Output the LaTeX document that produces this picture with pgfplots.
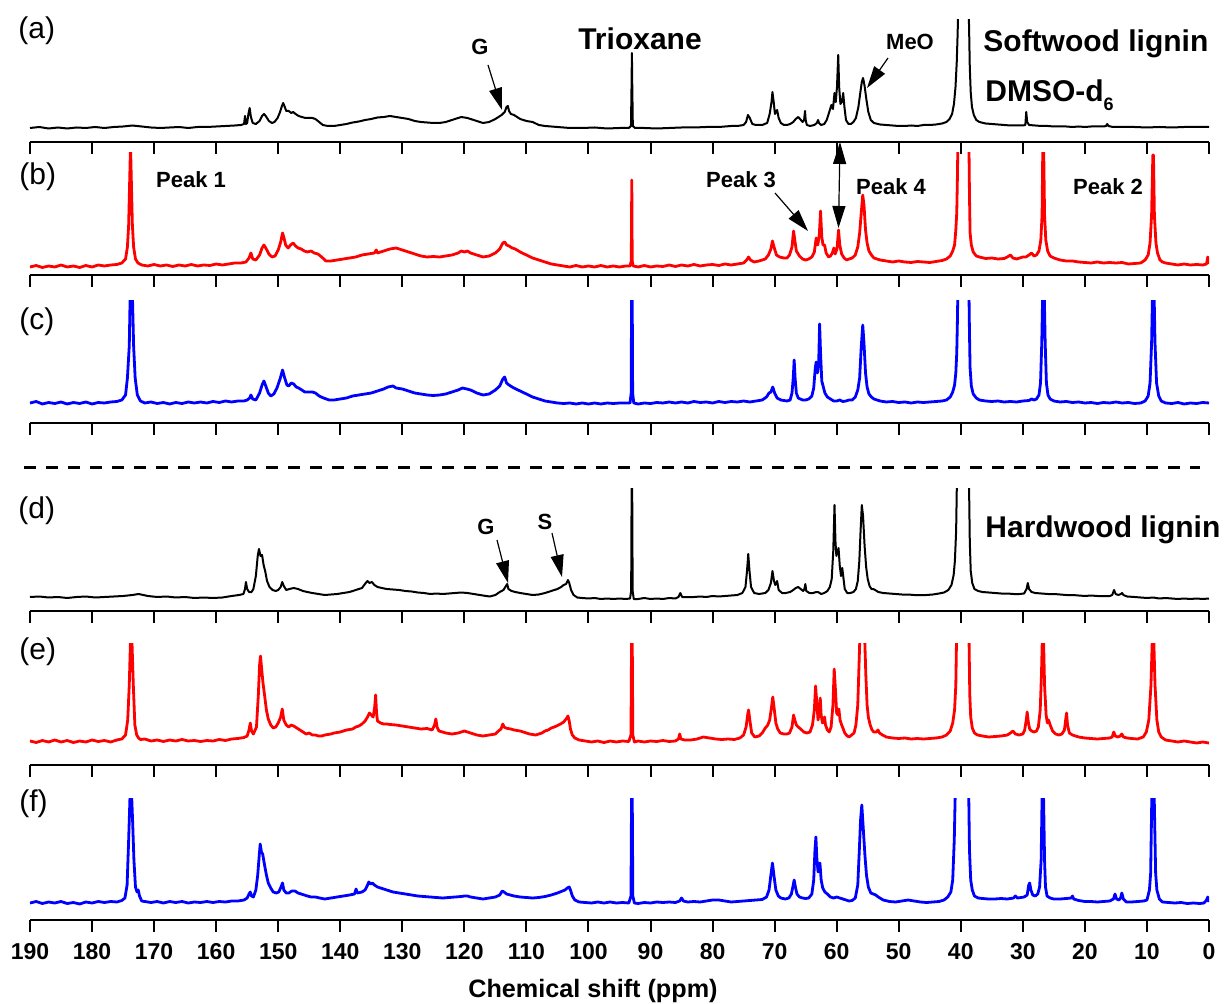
\documentclass[border=0pt]{standalone}
\usepackage{pgfplots}
\pgfplotsset{compat=1.18}
\usepackage{fontspec}
\setmainfont{Liberation Sans}
\usetikzlibrary{arrows.meta}

\pgfplotsset{
  panel/.style={
    scale only axis, width=589.5pt, height=61pt,
    xmin=0, xmax=190, ymin=0, ymax=122, x dir=reverse,
    axis x line=bottom, axis y line=none, ytick=\empty,
    axis line style={-, line width=1pt, black},
    xtick={0,10,...,190}, tick align=outside, major tick length=6pt,
    tick style={line width=1pt, black},
    xticklabels={}, clip=true, anchor=south west,
  },
  blk/.style={black, line width=1.0pt, line join=round},
  rd/.style={red, line width=1.4pt, line join=round},
  bl/.style={blue, line width=1.4pt, line join=round},
}
\newcommand\bigb{\bfseries\fontsize{15}{18}\selectfont}
\newcommand\smb{\bfseries\fontsize{11}{13}\selectfont}
\newcommand\plab{\fontsize{15}{18}\selectfont}

\begin{document}
\begin{tikzpicture}
\useasboundingbox (0pt,0pt) rectangle (612.5pt,-502pt);

% (a)
\begin{axis}[panel, at={(15pt,-71pt)}]
\addplot[blk] coordinates {(190,14)(188.5,15)(187,13.5)(185.5,14.5)(184,13.5)(182.5,14.5)(181,14)(179.5,15)(178,14)(176.5,15)(175,15.5)(173.5,16.5)(172,15.5)(170.5,14.5)(169,14)(167.5,14.5)(166,15)(164.5,14)(163,15)(161.5,15)(160,15.5)(158.5,16)(157,16.5)(156,17)(155.5,18)(155.35,26)(155.2,18)(155,19)(154.8,28)(154.6,34)(154.4,25)(154.1,19)(153.6,18)(153,21)(152.6,26)(152.3,28)(152,26)(151.5,21)(151,19)(150.6,20)(150.1,24)(149.7,30)(149.4,36)(149.2,39)(149,36)(148.7,31)(148.3,31)(147.9,29)(147.6,30)(147.2,28)(146.7,26)(146.2,25)(145.6,24)(145,24)(144.5,24)(144,23)(143.4,20)(142.8,17)(142,16)(141,16)(140,17)(139,18)(138,19.5)(137,20.5)(136,22)(135,23)(134,24.5)(133,25)(132,26)(131,25)(130,24)(129,23)(128,21)(127,20)(126,19.5)(125,19)(124,19)(123,20)(122,22)(121,24)(120.5,25)(120,24.5)(119.5,24)(119,23)(118,21)(117,19)(116,20)(115,23)(114.5,25)(114,27)(113.5,30)(113.2,35)(113,36)(112.8,31)(112.5,28)(112,27)(111.5,25)(111,23)(110,21)(109,20)(108,17)(107,16)(106,15.5)(105,15)(104,14.5)(103,14)(101,14)(99,14.5)(97,13.5)(95,14)(93.5,14)(93.15,16)(93.05,60)(93,89)(92.95,60)(92.85,16)(92.5,14)(91,14)(89,13.5)(87,14)(85,14.5)(83,14.5)(81,15)(79,15)(77,16)(76,16)(75,17)(74.6,20)(74.3,27)(74,24)(73.6,18)(73,17)(72,17)(71.2,19)(70.8,28)(70.5,40)(70.35,50)(70.15,40)(69.95,28)(69.6,32)(69.35,24)(69,19)(68.5,17)(68,17)(67.5,18)(67,20)(66.6,23)(66.2,25)(65.9,23)(65.5,20)(65.25,22)(65.1,31)(65.0,22)(64.8,17)(64.3,16)(63.6,17)(63.2,19)(63.0,22)(62.85,19)(62.5,17)(62,18)(61.6,22)(61.2,30)(60.85,37)(60.6,33)(60.35,49)(60.15,40)(59.95,55)(59.75,87)(59.6,55)(59.4,38)(59.15,40)(58.95,49)(58.75,35)(58.5,22)(58.1,18)(57.7,18)(57.3,20)(56.9,24)(56.5,35)(56.2,49)(55.95,60)(55.75,64)(55.5,56)(55.2,42)(54.9,30)(54.5,22)(54,19)(53,17.5)(52,17)(51,16.5)(50,16)(49,16)(48,16.5)(47,16)(46,17)(45,17)(44,17.5)(43,18.5)(42.3,20)(41.8,23)(41.4,28)(41.1,38)(40.85,55)(40.65,80)(40.5,110)(40.4,140)(39.5,200)(38.75,140)(38.65,110)(38.55,75)(38.4,50)(38.2,35)(37.9,27)(37.5,22)(37,20)(36,18.5)(35,18)(34,17.5)(33,17)(32,16.5)(31,16.5)(30,16.5)(29.6,17)(29.45,30)(29.3,20)(29,17)(28,16.5)(27,16)(26,16)(25,15.5)(24,15.5)(23,15.5)(22,15)(21,15.5)(20,15)(19,15.5)(18,15.5)(17,15.5)(16.6,16)(16.4,18)(16.2,16)(15.5,15)(14,15)(12,15)(10,14.5)(8,15)(6,14.5)(4,15)(2,15)(0,15)};
\end{axis}

% (b)
\begin{axis}[panel, at={(15pt,-137.5pt)}]
\addplot[rd] coordinates {(190,8)(189,9.5)(188,7.5)(187,9)(186,8)(185,10)(184,8)(183,9)(182,7.5)(181,9.5)(180,8)(179,10)(178,9)(177,10)(176,10.5)(175.2,12)(174.6,16)(174.3,28)(174.1,50)(173.95,90)(173.8,130)(173.65,90)(173.5,50)(173.3,28)(173,16)(172.6,12)(172,10)(171,9)(170,10.5)(169,9)(168,10)(167,8.5)(166,10)(165,9)(164,10.5)(163,9)(162,10)(161,9.5)(160,11)(159,10)(158,11)(157,12)(156,12)(155.2,13)(154.7,17)(154.4,22)(154.1,16)(153.6,15)(153,20)(152.6,27)(152.3,30)(152,27)(151.5,21)(151,18)(150.5,19)(150,25)(149.6,33)(149.3,42)(149.1,38)(148.8,30)(148.4,27)(148,30)(147.6,32)(147.2,29)(146.8,27)(146.3,26)(145.8,24)(145.3,23)(144.7,24)(144.2,22)(143.6,21)(143,18)(142.3,14)(141.5,14)(140.5,15)(139.5,16)(138.5,17)(137.5,18)(136.5,20)(135.5,21)(134.5,22)(134.2,25)(134,22)(133,24)(132,26)(131,27)(130,25)(129,23)(128,21)(127,19)(126,18)(125,18.5)(124,18)(123,19)(122,20)(121,22)(120.5,24)(120,23)(119.5,24)(119,22)(118,20)(117,18)(116,19)(115,22)(114.3,26)(113.8,32)(113.5,33)(113.2,30)(112.8,29)(112.3,27)(111.8,26)(111,23)(110,20)(109,17)(108,15)(107,13)(106,11)(105,10)(104,9)(103,8)(102,9.5)(101,8)(100,9)(99,8)(98,9.5)(97,8)(96,9)(95,8)(94,9)(93.3,9)(93.1,14)(93.02,95)(92.95,14)(92.8,9)(92,8)(91,9.5)(90,8)(89,9)(88,8.5)(87,10)(86,8.5)(85,10)(84,9)(83,10.5)(82,9)(81,10)(80,10.5)(79,9.5)(78,11)(77,10)(76,11)(75,12)(74.5,15)(74.2,18)(73.9,15)(73.3,13)(72.5,14)(71.5,16)(71,20)(70.6,26)(70.35,34)(70.1,28)(69.7,20)(69.2,18)(68.5,17)(68,17)(67.6,20)(67.2,28)(66.95,44)(66.75,35)(66.5,24)(66,19)(65.5,16)(65,15)(64.5,16)(64,18)(63.6,23)(63.3,37)(63.05,30)(62.8,40)(62.6,64)(62.4,38)(62.2,30)(61.95,30)(61.7,22)(61.3,18)(61,19)(60.7,22)(60.45,27)(60.25,21)(59.95,26)(59.7,45)(59.5,30)(59.2,21)(58.8,17)(58.4,15)(58,16)(57.5,17)(57,20)(56.6,28)(56.3,42)(56.0,65)(55.8,80)(55.6,70)(55.35,45)(55.1,32)(54.8,24)(54.4,20)(54,17)(53,15)(52,14)(51,13)(50,14)(49,13)(48,12.5)(47,13.5)(46,13)(45,12.5)(44,13.5)(43,14.5)(42.3,16)(41.7,19)(41.3,24)(41.0,30)(40.8,45)(40.65,62)(40.55,95)(40.45,140)(39.5,200)(38.7,140)(38.6,80)(38.5,42)(38.3,30)(38,23)(37.5,19)(37,18)(36,16.5)(35,17)(34,16)(33,16.5)(32.5,18)(32,20)(31.6,17)(31,16)(30.5,17)(30,18)(29.5,18)(29,20)(28.6,22)(28.2,19)(27.8,20)(27.4,24)(27.1,35)(26.9,60)(26.78,130)(26.65,130)(26.5,60)(26.3,35)(26.0,24)(25.6,19)(25,17)(24,15)(23,14)(22,14)(21,13)(20,12.5)(19,12)(18,13)(17,12)(16,12.5)(15,12)(14,12.5)(13,11)(12,11.5)(11,12)(10.3,15)(9.8,20)(9.5,32)(9.25,60)(9.05,120)(8.95,120)(8.8,60)(8.55,32)(8.3,22)(7.9,15)(7.5,13)(7,12)(6,11)(5,10)(4,11)(3,10)(2,10.5)(1,10)(0.4,11)(0.2,18)(0,11)};
\end{axis}

% (c)
\begin{axis}[panel, at={(15pt,-211.5pt)}]
\addplot[bl] coordinates {(190,20)(189,21.5)(188,19)(187,20.5)(186,19.5)(185,21)(184,19)(183,20.5)(182,19.5)(181,21)(180,19)(179,20.5)(178,20)(177,21)(176,21.5)(175.2,23)(174.6,28)(174.3,45)(174.0,77)(173.85,130)(173.5,130)(173.3,77)(173.05,45)(172.7,28)(172.2,22)(171.5,20)(170.5,21)(169.5,19.5)(168.5,20.5)(167.5,19)(166.5,20.5)(165.5,19.5)(164.5,21)(163.5,20)(162.5,21)(161.5,20)(160.5,21.5)(159.5,20.5)(158.5,22)(157.5,21)(156.5,22)(155.5,22)(155,23)(154.6,25)(154.4,28)(154.1,24)(153.6,23)(153,30)(152.6,38)(152.3,42)(152,37)(151.6,30)(151.2,27)(150.7,29)(150.2,35)(149.7,44)(149.3,53)(149,46)(148.6,38)(148.3,37)(147.9,40)(147.5,39)(147.1,36)(146.7,35)(146.2,33)(145.7,31)(145.2,31)(144.5,31)(144,30)(143.4,27)(142.7,25)(141.8,23)(141,23)(140,24)(139,25)(138,27)(137,28)(136,29)(135,30)(134,32)(133,34)(132.3,36)(131.5,37)(131,35)(130,34)(129,32)(128,30)(127,29)(126,28)(125,27.5)(124,28)(123,29)(122,31)(121,33)(120.3,35)(119.6,34)(119,33)(118,30)(117,28)(116,29)(115,33)(114.3,37)(113.8,44)(113.5,46)(113.2,40)(112.8,38)(112.3,36)(111.7,34)(111,32)(110,29)(109,26)(108,24)(107,22)(106,21)(105,20)(104,19.5)(103,20)(102,19)(101,20)(100,19)(99,20)(98,19)(97,20)(96,19.5)(95,20)(94,20)(93.3,20)(93.12,30)(93.05,130)(92.95,130)(92.88,30)(92.7,20)(92,19)(91,20)(90,19.5)(89,20.5)(88,20)(87,21)(86,20)(85,21)(84,20)(83,21.5)(82,20.5)(81,21)(80,20)(79,21.5)(78,20.5)(77,21.5)(76,21)(75,22)(74,21)(73,22)(72,23)(71.3,26)(70.9,30)(70.6,31)(70.3,36)(70.0,30)(69.6,25)(69,23)(68,22)(67.5,23)(67.2,30)(67.0,45)(66.85,63)(66.7,45)(66.5,30)(66.2,25)(65.5,23)(65,23)(64.5,24)(64,27)(63.7,35)(63.45,55)(63.3,61)(63.1,50)(62.9,60)(62.75,99)(62.6,70)(62.4,42)(62.15,36)(61.9,30)(61.5,26)(61,24)(60.5,22)(60,22)(59.5,23)(59,21.5)(58.5,22)(58,23)(57.5,23)(57,26)(56.6,33)(56.3,45)(56.05,75)(55.8,98)(55.6,80)(55.35,50)(55.1,36)(54.8,29)(54.4,26)(54,24)(53.5,23)(53,22)(52,21)(51,21.5)(50,20.5)(49,21)(48,20)(47,21)(46,20.5)(45,21)(44,21.5)(43,22)(42.3,23)(41.7,26)(41.3,31)(41,38)(40.8,50)(40.65,70)(40.55,100)(40.45,140)(39.5,200)(38.7,140)(38.6,90)(38.5,55)(38.3,37)(38,29)(37.5,25)(37,23)(36,22)(35,21.5)(34,22)(33,21)(32,21.5)(31,21)(30,22)(29,22.5)(28.6,24)(28.2,23)(27.8,24)(27.4,28)(27.15,40)(26.95,80)(26.8,130)(26.55,130)(26.4,80)(26.2,40)(25.95,28)(25.6,24)(25,22)(24,21)(23,21.5)(22,20.5)(21,21)(20,20)(19,20.5)(18,19.5)(17,20.5)(16,20)(15,21)(14,20)(13,20.5)(12,19.5)(11,20)(10.3,22)(9.8,27)(9.5,40)(9.25,80)(9.1,130)(8.85,130)(8.7,80)(8.45,40)(8.1,27)(7.7,22)(7,20)(6,19.5)(5,20.5)(4,19)(3,20)(2,19.5)(1,20.5)(0,20)};
\end{axis}

% (d)
\begin{axis}[panel, at={(15pt,-305.5pt)}]
\addplot[blk] coordinates {(190,14)(188.5,14.5)(187,13.5)(185.5,14)(184,13)(182.5,14)(181,14.5)(179.5,13.5)(178,14)(176.5,14.5)(175,15)(173.5,16)(172.5,17)(171,15)(169.5,14)(168,14.5)(166.5,13.5)(165,14)(163.5,13)(162,13.5)(160.5,13)(159,13.5)(157.5,15)(156.3,16)(155.6,17)(155.35,22)(155.2,29)(155.0,22)(154.7,19)(154.3,19)(154,22)(153.6,35)(153.3,55)(153.1,62)(152.85,55)(152.6,56)(152.35,46)(152.1,40)(151.8,30)(151.4,24)(150.9,21)(150.4,20)(150,21)(149.6,24)(149.35,29)(149.1,25)(148.7,21)(148.2,22)(147.5,23)(146.8,22)(146,20)(145.3,19)(144.5,18)(143.5,17)(142.5,16)(141.5,16.5)(140.5,17)(139.5,18)(138.5,19)(137.5,21)(136.5,23)(135.9,28)(135.6,30)(135.3,28)(134.9,29)(134.5,26)(134,24)(133.3,23)(132.5,22)(131.5,21.5)(130.5,21)(129.5,20)(128.5,19.5)(127.5,18.5)(126.5,18)(125.5,17)(124.5,17.5)(123.5,17)(122.5,17.5)(121.5,18)(120.5,18.5)(119.5,18)(118.5,17)(117.5,16)(116.5,15)(115.9,14.5)(115,16)(114.3,19)(113.7,21)(113.3,25)(113.1,27)(112.9,22)(112.4,20)(111.8,19)(111,18)(110,17)(109,16)(108,16.5)(107,18)(106,20)(105,22)(104.4,24)(104,26)(103.6,27)(103.3,31)(103.1,28)(102.8,21)(102.4,16)(101.8,13.5)(101,13)(100,12.5)(99,13)(98,12)(97,12.5)(96,12)(95,12.5)(94,12)(93.3,12.5)(93.12,20)(93.04,130)(92.96,130)(92.88,20)(92.7,12)(92,12)(91,13)(90,12)(89,12.5)(88,12)(87,13)(86,12.5)(85.5,14)(85.2,18)(84.9,14)(84,14)(83,14)(82,14.5)(81,14)(80,15)(79,14.5)(78,15)(77,15.5)(76,16)(75.2,18)(74.7,24)(74.45,40)(74.25,57)(74.05,40)(73.8,24)(73.3,18)(72.5,17)(71.5,18)(71,21)(70.6,28)(70.35,40)(70.1,30)(69.9,26)(69.6,30)(69.35,21)(68.8,18)(68.2,18)(67.5,19)(67,21)(66.6,23)(66.2,24)(65.8,22)(65.4,20)(65.2,22)(65.05,27)(64.9,20)(64.4,18)(63.8,18)(63.3,19)(63.0,19)(62.5,17)(62,18)(61.5,20)(61.1,24)(60.8,32)(60.55,60)(60.35,106)(60.2,70)(60.05,55)(59.9,58)(59.7,63)(59.5,45)(59.3,35)(59.1,43)(58.95,35)(58.7,22)(58.3,18)(57.8,18)(57.3,19)(56.9,22)(56.6,30)(56.35,50)(56.15,80)(55.95,106)(55.75,95)(55.5,65)(55.25,44)(55,32)(54.7,25)(54.4,22)(54.1,22)(53.8,21)(53.3,19)(52.5,18)(51.5,17.5)(50.5,17)(49.5,16.5)(48.5,16.5)(47.5,16)(46.5,16)(45.5,16)(44.5,16.5)(43.5,17.5)(42.7,18.5)(42,21)(41.5,26)(41.15,36)(40.95,50)(40.75,80)(40.6,140)(39.5,200)(38.7,140)(38.55,70)(38.4,40)(38.15,28)(37.8,22)(37.2,20)(36.5,19)(35.5,18.5)(34.5,18)(33.5,17.5)(32.5,17.5)(31.5,17)(30.5,17)(29.8,17.5)(29.4,22)(29.2,28)(29.0,22)(28.6,19)(28,18)(27,17.5)(26,17)(25,17)(24,16.5)(23,16)(22,16)(21,15.5)(20,15)(19,15.5)(18,15)(17,15)(16,15)(15.6,16)(15.3,21)(15.05,17)(14.6,16)(14.2,17)(14,18)(13.8,16)(13.2,14.5)(12,14)(11,13.5)(10,13)(9,13.5)(8,12.5)(7,13)(6,12.5)(5,12)(4,12.5)(3,12)(2,12.5)(1,12)(0,12.5)};
\end{axis}

% (e)
\begin{axis}[panel, at={(15pt,-382.5pt)}]
\addplot[rd] coordinates {(190,24)(189,22.5)(188,24.5)(187,23)(186,25)(185,23)(184,24.5)(183,22.5)(182,24)(181,23)(180,25)(179,23.5)(178,24.5)(177,23)(176,25)(175.2,26)(174.6,30)(174.25,45)(174.0,80)(173.78,130)(173.6,130)(173.35,80)(173.1,40)(172.8,30)(172.5,27)(172.2,25.5)(171.5,26)(170.5,24)(169.5,25)(168.5,23.5)(167.5,25)(166.5,24)(165.5,25.5)(164.5,24)(163.5,24.5)(162.5,23.5)(161.5,24.5)(160.5,24)(159.5,25.5)(158.5,24.5)(157.5,26)(156.5,26.5)(155.5,27.5)(155,29)(154.7,35)(154.5,42)(154.3,34)(154,31)(153.5,38)(153.2,70)(153.0,100)(152.85,109)(152.65,95)(152.45,82)(152.2,70)(151.9,55)(151.6,46)(151.2,40)(150.8,37)(150.4,38)(150,42)(149.6,48)(149.35,56)(149.1,45)(148.7,40)(148.3,38)(147.9,40)(147.5,39)(147,37)(146.5,35)(146,33)(145.5,31)(145,32)(144.5,30)(144,30)(143.5,29)(143,29)(142.5,30)(142,30.5)(141.5,31)(141,32)(140,33)(139,35)(138,36)(137.5,38)(137,39)(136.5,41)(136,44)(135.6,48)(135.3,52)(135,50)(134.7,48)(134.45,58)(134.3,70)(134.15,52)(134,44)(133.5,42)(133,41)(132.5,41)(132,40.5)(131,40)(130,39)(129,38)(128,37)(127,36)(126,36.5)(125.2,35)(124.8,40)(124.6,46)(124.4,38)(124.1,34)(123.5,33)(123,32)(122,31)(121,32)(120.5,33)(120,34)(119.5,33)(119,32)(118.5,31)(118,30)(117,29)(116.5,29.5)(116,30)(115.5,30.5)(115,31)(114.5,34)(114.1,36)(113.8,41)(113.6,38)(113.3,37)(113,36.5)(112.5,36)(112,35)(111.5,34.5)(111,34)(110.5,33)(110,32)(109.5,31)(109,30.5)(108.5,30)(108,31)(107.5,32)(107,34)(106.5,35)(106,37)(105.5,38)(105,39.5)(104.5,41)(104,43)(103.6,46)(103.3,49)(103.1,44)(102.9,36)(102.6,30)(102.2,27)(101.5,25)(100.5,24)(99.5,23)(98.5,24)(97.5,22.5)(96.5,24)(95.5,23)(94.5,24)(93.5,23.5)(93.15,30)(93.05,130)(92.95,130)(92.85,30)(92.6,23)(92,24)(91,23)(90,24)(89,23.5)(88,24.5)(87,23.5)(86,24)(85.5,26)(85.3,31)(85.1,26)(84.5,25)(83.5,25)(82.5,26)(81.5,28)(80.5,27)(79.5,26)(78.5,25.5)(77.5,26)(76.5,25.5)(75.6,27)(75,30)(74.6,38)(74.35,50)(74.2,55)(74.0,45)(73.7,32)(73.2,28)(72.5,29)(72,32)(71.5,37)(71.1,40)(70.8,45)(70.5,58)(70.3,68)(70.1,58)(69.8,42)(69.5,36)(69.1,32)(68.5,31)(68,31)(67.6,32)(67.2,38)(66.95,50)(66.75,45)(66.5,40)(66.2,38)(65.8,36)(65.3,33)(64.8,32)(64.3,33)(63.9,40)(63.6,55)(63.4,79)(63.2,62)(63.0,45)(62.8,55)(62.65,67)(62.5,50)(62.3,42)(62.1,44)(61.95,48)(61.8,40)(61.5,35)(61.2,33)(60.9,38)(60.6,60)(60.4,96)(60.2,75)(60.0,52)(59.8,50)(59.65,56)(59.45,45)(59.2,40)(59,37)(58.7,32)(58.3,29)(58,28)(57.6,30)(57.2,32)(56.9,40)(56.6,60)(56.4,100)(56.25,130)(55.5,130)(55.3,90)(55.1,60)(54.9,48)(54.6,40)(54.3,35)(54,33)(53.6,33)(53.35,35)(53.1,32)(52.6,30)(52,28)(51,27)(50,26.5)(49,27)(48,26)(47,26.5)(46,26)(45,26.5)(44,27)(43,28)(42.3,30)(41.7,34)(41.3,42)(41.0,55)(40.8,80)(40.65,140)(39.5,200)(38.7,140)(38.55,70)(38.4,48)(38.15,37)(37.8,32)(37.3,30)(36.5,29)(35.5,28)(34.5,28.5)(33.5,29)(32.5,30)(32,32)(31.6,34)(31.2,31)(30.6,30)(30,31)(29.7,35)(29.45,45)(29.3,53)(29.1,42)(28.9,36)(28.6,34)(28.2,33)(27.8,34)(27.5,38)(27.2,55)(27.0,90)(26.85,130)(26.68,130)(26.5,80)(26.25,50)(26.05,42)(25.85,45)(25.6,40)(25.2,34)(24.7,31)(24.2,30)(23.7,31)(23.3,35)(23.1,45)(22.95,52)(22.8,40)(22.5,32)(22,30)(21,28)(20,27)(19,26.5)(18,26)(17,26.5)(16,27)(15.6,28)(15.35,33)(15.1,29)(14.7,28)(14.3,29)(14.05,31)(13.8,28)(13.2,27)(12.5,26.5)(11.5,26)(10.6,28)(10.1,33)(9.7,45)(9.35,80)(9.12,130)(8.92,130)(8.7,80)(8.4,45)(8.1,33)(7.7,28)(7,25)(6,24)(5,23)(4,24)(3,23)(2,22)(1,23)(0,22)};
\end{axis}

% (f)
\begin{axis}[panel, at={(15pt,-460pt)},
  xticklabels={0,10,20,30,40,50,60,70,80,90,100,110,120,130,140,150,160,170,180,190},
  xticklabel style={font=\bfseries\fontsize{11.5}{14}\selectfont, yshift=-2pt},
  /pgf/number format/assume math mode=true,
  xlabel={Chemical shift (ppm)},
  xlabel style={font=\bfseries\fontsize{12.6}{15}\selectfont, at={(axis description cs:0.4775,-0.58)}, anchor=center},
]
\addplot[bl] coordinates {(190,17)(189,18.5)(188,16.5)(187,18)(186,17)(185,18.5)(184,16.5)(183,17.5)(182,16)(181,18)(180,17)(179,18.5)(178,17.5)(177,18.5)(176,18)(175.2,19.5)(174.7,22)(174.35,35)(174.1,80)(173.85,130)(173.65,130)(173.45,97)(173.25,60)(173.0,33)(172.75,28)(172.55,30)(172.35,24)(172.0,19)(171.5,18.5)(170.5,17.5)(169.5,18.5)(168.5,17)(167.5,18.5)(166.5,17.5)(165.5,18.5)(164.5,17)(163.5,18)(162.5,17.5)(161.5,18.5)(160.5,17.5)(159.5,18.5)(158.5,18)(157.5,19)(156.5,19)(155.5,20)(155,22)(154.7,26)(154.5,28)(154.3,24)(154,23)(153.6,30)(153.3,45)(153.05,65)(152.9,76)(152.7,68)(152.5,66)(152.2,55)(151.9,45)(151.6,37)(151.2,32)(150.8,28)(150.3,27)(149.9,28)(149.55,33)(149.3,37)(149.1,30)(148.7,27)(148.3,27)(147.8,29)(147.3,29)(146.8,27)(146.3,26)(145.8,25)(145.3,24)(144.7,23)(144,23)(143.3,22)(142.5,21)(141.5,22)(140.5,23)(139.5,24)(138.5,25)(137.7,26)(137.45,31)(137.25,27)(136.5,28)(136,30)(135.6,35)(135.4,38)(135.1,36)(134.8,37)(134.5,35)(134,33)(133.5,32)(133,31)(132.5,30)(131.5,28)(130.5,27)(129.5,26)(128.5,25)(127.5,24)(126.5,23.5)(125.5,23)(124.5,22.5)(123.5,22)(122.5,22.5)(121.5,23)(120.5,23.5)(120,24)(119.5,24)(119,23)(118,22)(117,21)(116,22)(115,23)(114.3,25)(113.9,29)(113.6,28)(113.2,26)(112.6,25)(112,24)(111,23)(110,22.5)(109,22)(108,22.5)(107,23.5)(106,25)(105,27)(104.2,29)(103.8,30)(103.4,32)(103.1,33)(102.9,30)(102.6,24)(102.2,20)(101.5,18)(100.5,17.5)(99.5,17)(98.5,18)(97.5,17)(96.5,18)(95.5,17)(94.5,17.5)(93.5,17)(93.15,24)(93.05,130)(92.95,130)(92.85,24)(92.6,17)(92,16.5)(91,17.5)(90,17)(89,18)(88,17.5)(87,18)(86,17.5)(85.3,19)(85,22)(84.7,19)(84,18)(83,18.5)(82,18)(81,19)(80,20)(79,20)(78,19)(77,18)(76,18.5)(75,19)(74,19.5)(73,20)(72,20.5)(71.3,23)(70.9,30)(70.6,45)(70.35,57)(70.1,44)(69.8,30)(69.4,24)(69,22)(68.3,21)(67.7,22)(67.3,26)(67.0,35)(66.85,40)(66.65,33)(66.4,26)(66,23)(65.5,22)(65,21.5)(64.5,22)(64,26)(63.7,40)(63.5,70)(63.35,83)(63.2,62)(63.0,48)(62.85,52)(62.7,57)(62.5,40)(62.25,32)(61.9,28)(61.5,26)(61,23)(60.5,22)(60,23)(59.5,22)(59,21)(58.5,20)(58,19)(57.5,19.5)(57,22)(56.6,35)(56.35,70)(56.15,100)(55.95,115)(55.7,90)(55.45,65)(55.2,45)(54.9,33)(54.5,27)(54.1,26)(53.7,25)(53.3,23)(52.5,20)(51.5,18.5)(50.5,18)(49.5,19)(48.5,20)(47.5,19)(46.5,18)(45.5,17.5)(44.5,18)(43.5,18.5)(42.7,20)(42.1,23)(41.6,28)(41.3,40)(41.05,80)(40.85,140)(39.5,200)(38.75,140)(38.6,70)(38.4,40)(38.15,30)(37.8,24)(37.2,22)(36.5,21.5)(35.5,21)(34.5,21)(33.5,21.5)(32.5,21)(31.5,22)(31.2,24)(30.9,22)(30.3,22.5)(29.8,23)(29.3,25)(29.05,35)(28.9,37)(28.7,30)(28.4,25)(28,24)(27.6,26)(27.3,33)(27.05,60)(26.88,130)(26.68,130)(26.5,60)(26.35,33)(26.1,24)(25.6,22)(25,21)(24,21)(23,21.5)(22.2,22)(22,24)(21.8,21)(21,19.5)(20,18.5)(19,18.5)(18,18)(17,18.5)(16,19)(15.4,21)(15.15,26)(14.9,21)(14.5,20)(14.25,22)(14.05,27)(13.8,21)(13.3,18)(12.5,18)(11.5,18.5)(10.5,19)(10,20)(9.6,30)(9.4,47)(9.2,130)(8.85,130)(8.6,47)(8.4,30)(8.0,21)(7.5,18)(6.5,17.5)(5.5,17)(4.5,17.5)(3.5,16.5)(2.5,17)(1.5,16.5)(0.8,17)(0.4,20)(0.2,23)(0,18)};
\end{axis}

\begin{scope}[x=0.5pt,y=-0.5pt]
% panel labels
\node[anchor=west, inner sep=0, font=\plab] at (18,31) {(a)};
\node[anchor=west, inner sep=0, font=\plab] at (19,177) {(b)};
\node[anchor=west, inner sep=0, font=\plab] at (19,322) {(c)};
\node[anchor=west, inner sep=0, font=\plab] at (18,511) {(d)};
\node[anchor=west, inner sep=0, font=\plab] at (19,652) {(e)};
\node[anchor=west, inner sep=0, font=\plab] at (19,804) {(f)};
% big labels
\node[anchor=base, inner sep=0, font=\bigb] at (640,50) {Trioxane};
\node[anchor=base west, inner sep=0, font=\bigb] at (983,52) {Softwood lignin};
\node[anchor=base west, inner sep=0, font=\bigb] at (985,102) {DMSO-d\raisebox{-4.5pt}{\bfseries\fontsize{9}{11}\selectfont 6}};
\node[anchor=base west, inner sep=0, font=\bigb] at (985,538) {Hardwood lignin};
% small labels
\node[anchor=base, inner sep=0, font=\smb] at (480,55) {G};
\node[anchor=base, inner sep=0, font=\smb] at (910,50) {MeO};
\node[anchor=base, inner sep=0, font=\smb] at (191,188) {Peak 1};
\node[anchor=base, inner sep=0, font=\smb] at (741,188) {Peak 3};
\node[anchor=base, inner sep=0, font=\smb] at (891,195) {Peak 4};
\node[anchor=base, inner sep=0, font=\smb] at (1108,195) {Peak 2};
\node[anchor=base, inner sep=0, font=\smb] at (486,535) {G};
\node[anchor=base, inner sep=0, font=\smb] at (545,530) {S};
% arrows
\tikzset{ah/.style={line width=0.6pt, -{Triangle[length=11pt,width=6.5pt]}}}
\draw[ah] (488,65) -- (502,110);
\draw[ah] (888,58) -- (867,88);
\draw[ah] (775,193) -- (808,231);
\draw[ah] (497,540) -- (508,583);
\draw[ah] (552,533) -- (562,577);
\draw[line width=0.6pt, {Triangle[length=11pt,width=6.5pt]}-{Triangle[length=11pt,width=6.5pt]}] (840,142) -- (838.5,228);
% dashed separator
\draw[line width=1.5pt, dash pattern=on 6pt off 5pt] (24,468) -- (1200,468);
\end{scope}
\end{tikzpicture}
\end{document}
